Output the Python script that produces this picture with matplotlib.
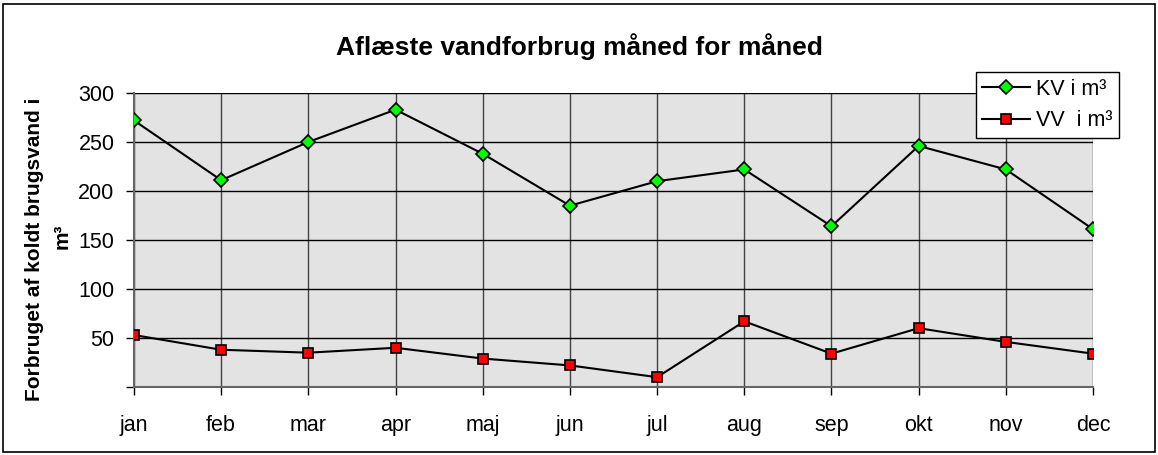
import matplotlib.pyplot as plt
from matplotlib.patches import Rectangle

plt.rcParams['font.family'] = ['Liberation Sans', 'DejaVu Sans']

months = ['jan', 'feb', 'mar', 'apr', 'maj', 'jun', 'jul', 'aug', 'sep', 'okt', 'nov', 'dec']
kv = [272, 211, 250, 283, 238, 185, 210, 222, 164, 246, 222, 161]
vv = [53, 38, 35, 40, 29, 22, 10, 67, 34, 60, 46, 34]
yticks = [0, 50, 100, 150, 200, 250, 300]
ytick_labels = ['', '50', '100', '150', '200', '250', '300']


def main():
    fig = plt.figure(figsize=(11.58, 4.55), dpi=100)
    ax = fig.add_axes([0.1157, 0.1495, 0.8282, 0.6461])
    ax.set_facecolor('#e3e3e3')

    x = list(range(len(months)))
    ax.plot(x, kv, color='black', lw=1.5, marker='D', ms=7, mfc='#00ff00', mec='black', mew=1.2,
            label='KV i m³', zorder=3)
    ax.plot(x, vv, color='black', lw=1.5, marker='s', ms=7.5, mfc='#ff0000', mec='black', mew=1.2,
            label='VV  i m³', zorder=3)

    ax.set_xlim(0, len(months) - 1)
    ax.set_ylim(0, 300)
    ax.set_xticks(x)
    ax.set_xticklabels(months)
    ax.set_yticks(yticks)
    ax.set_yticklabels(ytick_labels)
    ax.tick_params(axis='both', direction='out', length=6, width=1, labelsize=15.5, colors='black')
    ax.tick_params(axis='x', pad=14)
    ax.tick_params(axis='y', pad=8)

    ax.grid(axis='y', color='black', lw=1)
    ax.grid(axis='x', color='#444444', lw=1)
    ax.set_axisbelow(True)
    for s in ['top', 'right']:
        ax.spines[s].set_visible(False)
    ax.spines['left'].set_color('#666666')
    ax.spines['bottom'].set_color('#666666')
    ax.spines['left'].set_linewidth(1.5)
    ax.spines['bottom'].set_linewidth(1.5)

    fig.text(0.5, 0.897, 'Aflæste vandforbrug måned for måned', ha='center', va='center',
             fontsize=19, fontweight='bold')
    fig.text(0.030, 0.452, 'Forbruget af koldt brugsvand i', rotation=90, ha='center', va='center',
             fontsize=15, fontweight='bold')
    fig.text(0.054, 0.48, 'm³', rotation=90, ha='center', va='center',
             fontsize=15, fontweight='bold')

    leg = ax.legend(loc='upper left', bbox_to_anchor=(0.878, 1.071), fontsize=15.5, frameon=True,
                    fancybox=False, borderpad=0.3, handlelength=2.2, labelspacing=0.5,
                    handletextpad=0.3, borderaxespad=0)
    leg.get_frame().set_edgecolor('black')
    leg.get_frame().set_linewidth(1)
    leg.get_frame().set_alpha(1)

    fig.patches.append(Rectangle((0.003, 0.006), 0.994, 0.985, transform=fig.transFigure,
                                 fill=False, edgecolor='black', lw=1.2))

    fig.savefig('out.png', dpi=100)


if __name__ == "__main__":
    main()
